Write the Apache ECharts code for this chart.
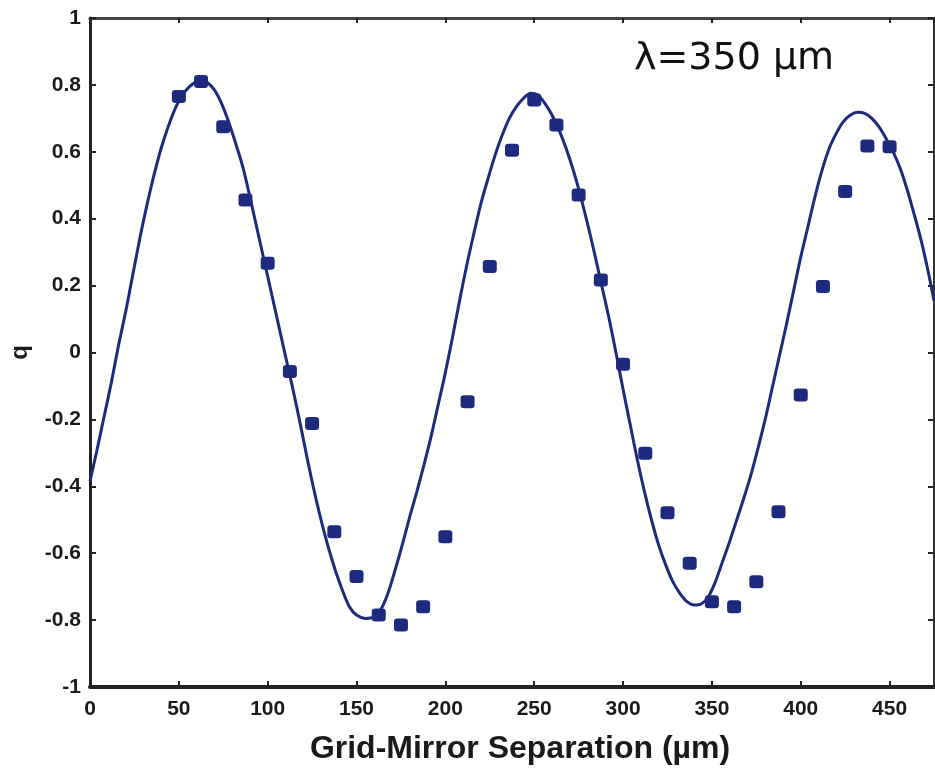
<!DOCTYPE html>
<html>
<head>
<meta charset="utf-8">
<title>q vs grid-mirror separation</title>
<script src="https://cdn.jsdelivr.net/npm/echarts@6/dist/echarts.min.js"></script>
<style>
  html, body { margin: 0; padding: 0; background: #ffffff; }
  #chart { width: 935px; height: 773px; }
</style>
</head>
<body>
<div id="chart"></div>
<script>
// Measured polarisation q at each grid-mirror separation (µm)
const sepMeasured = [50, 62.5, 75, 87.5, 100, 112.5, 125, 137.5, 150, 162.5, 175, 187.5,
  200, 212.5, 225, 237.5, 250, 262.5, 275, 287.5, 300, 312.5, 325, 337.5,
  350, 362.5, 375, 387.5, 400, 412.5, 425, 437.5, 450];
const qMeasured = [0.765, 0.81, 0.675, 0.456, 0.267, -0.057, -0.212, -0.536, -0.67, -0.785, -0.815, -0.76,
  -0.551, -0.147, 0.257, 0.605, 0.755, 0.68, 0.471, 0.217, -0.035, -0.301, -0.479, -0.63,
  -0.745, -0.76, -0.685, -0.476, -0.127, 0.197, 0.481, 0.617, 0.615];

// Model curve, sampled along the separation axis
const sepModel = [0, 4, 8, 12, 16, 20, 24, 28, 32, 36, 40, 44, 48, 52, 56, 60, 63, 66, 70, 74, 78, 82, 86,
  90, 94, 98, 102, 106, 110, 114, 118, 122, 126, 130, 134, 138, 142, 146, 150, 155, 160, 164, 168,
  172, 176, 180, 184, 188, 192, 196, 200, 204, 208, 212, 216, 220, 224, 228, 232, 236, 240, 244,
  248, 252, 256, 260, 264, 268, 272, 276, 280, 284, 288, 292, 296, 300, 304, 308, 312, 316, 320,
  324, 328, 332, 336, 340, 344, 348, 352, 356, 360, 364, 368, 372, 376, 380, 384, 388, 392, 396,
  400, 404, 408, 412, 416, 420, 424, 428, 432, 436, 440, 444, 448, 452, 456, 460, 464, 468, 472, 475];
const qModel = [-0.385, -0.29, -0.19, -0.09, 0.02, 0.12, 0.23, 0.34, 0.44, 0.53, 0.61, 0.675, 0.73, 0.77,
  0.795, 0.81, 0.813, 0.807, 0.785, 0.745, 0.69, 0.625, 0.555, 0.465, 0.37, 0.275, 0.18, 0.085, -0.01,
  -0.105, -0.205, -0.31, -0.41, -0.5, -0.58, -0.65, -0.71, -0.76, -0.785, -0.795, -0.79, -0.765, -0.715,
  -0.645, -0.57, -0.49, -0.415, -0.335, -0.25, -0.155, -0.06, 0.045, 0.155, 0.26, 0.355, 0.445, 0.52,
  0.59, 0.65, 0.7, 0.735, 0.76, 0.775, 0.77, 0.745, 0.71, 0.665, 0.61, 0.545, 0.47, 0.385, 0.295, 0.2,
  0.105, 0.0, -0.11, -0.215, -0.32, -0.415, -0.5, -0.575, -0.635, -0.685, -0.72, -0.745, -0.755,
  -0.752, -0.73, -0.685, -0.625, -0.565, -0.5, -0.435, -0.365, -0.285, -0.2, -0.105, -0.01, 0.085, 0.185,
  0.285, 0.375, 0.465, 0.545, 0.61, 0.655, 0.69, 0.71, 0.718, 0.715, 0.7, 0.675, 0.64, 0.6, 0.55,
  0.485, 0.41, 0.33, 0.235, 0.155];

const xTicks = [0, 50, 100, 150, 200, 250, 300, 350, 400, 450];
const yTicks = [-1, -0.8, -0.6, -0.4, -0.2, 0, 0.2, 0.4, 0.6, 0.8, 1];

const NAVY = '#1d2a7e';
const INK = '#1a1a1a';
const labelFont = { fontFamily: '"Liberation Sans", Arial, sans-serif', fontWeight: 'bold', fontSize: 21, color: INK };

const pairs = (xs, ys) => xs.map((x, i) => [x, ys[i]]);

const chart = echarts.init(document.getElementById('chart'), null, { renderer: 'canvas' });

chart.setOption({
  backgroundColor: '#ffffff',
  animation: false,
  grid: { left: 88, right: 1, top: 18, bottom: 86, show: true, borderColor: '#3a3a3a', borderWidth: 2 },
  xAxis: [{
    type: 'value', min: 0, max: 475, interval: 50, position: 'bottom',
    name: 'Grid-Mirror Separation (µm)', nameLocation: 'middle', nameGap: 46,
    nameTextStyle: { fontFamily: '"Liberation Sans", Arial, sans-serif', fontWeight: 'bold', fontSize: 32, color: INK, padding: [0, 0, 0, 16] },
    axisLine: { show: true, onZero: false, lineStyle: { color: '#222', width: 4 } },
    axisTick: { show: true, inside: true, length: 6, lineStyle: { color: '#222', width: 2 } },
    axisLabel: { ...labelFont, margin: 12, showMaxLabel: false,
      formatter: v => (xTicks.includes(v) ? String(v) : '') },
    splitLine: { show: false }
  }, {
    type: 'value', min: 0, max: 475, interval: 50, position: 'top',
    axisLine: { show: true, onZero: false, lineStyle: { color: '#444', width: 3 } },
    axisTick: { show: true, inside: true, length: 5, lineStyle: { color: '#222', width: 2 } },
    axisLabel: { show: false }, splitLine: { show: false }
  }],
  yAxis: [{
    type: 'value', min: -1, max: 1, interval: 0.2, position: 'left',
    name: 'q', nameLocation: 'middle', nameGap: 58, nameRotate: 90,
    nameTextStyle: { fontFamily: '"Liberation Sans", Arial, sans-serif', fontWeight: 'bold', fontSize: 24, color: INK },
    axisLine: { show: true, onZero: false, lineStyle: { color: '#222', width: 3 } },
    axisTick: { show: true, inside: true, length: 6, lineStyle: { color: '#222', width: 2 } },
    axisLabel: { ...labelFont, margin: 9,
      formatter: v => {
        const t = yTicks.find(k => Math.abs(k - v) < 1e-9);
        return t === undefined ? '' : String(t);
      } },
    splitLine: { show: false }
  }, {
    type: 'value', min: -1, max: 1, interval: 0.2, position: 'right',
    axisLine: { show: true, onZero: false, lineStyle: { color: '#333', width: 2 } },
    axisTick: { show: true, inside: true, length: 6, lineStyle: { color: '#222', width: 2 } },
    axisLabel: { show: false }, splitLine: { show: false }
  }],
  graphic: [{
    type: 'text', left: 634, top: 40, silent: true,
    style: { text: 'λ=350 µm', fill: '#111', font: 'normal 38px "DejaVu Sans", Verdana, sans-serif' }
  }],
  series: [{
    name: 'model', type: 'line', xAxisIndex: 0, yAxisIndex: 0,
    data: pairs(sepModel, qModel), smooth: 0.3, showSymbol: false, symbol: 'none',
    lineStyle: { color: NAVY, width: 3 }, clip: true, z: 2
  }, {
    name: 'measured', type: 'scatter', xAxisIndex: 0, yAxisIndex: 0,
    data: pairs(sepMeasured, qMeasured), symbol: 'roundRect', symbolSize: [14, 13],
    itemStyle: { color: NAVY, opacity: 1 }, z: 3
  }]
});
</script>
</body>
</html>
